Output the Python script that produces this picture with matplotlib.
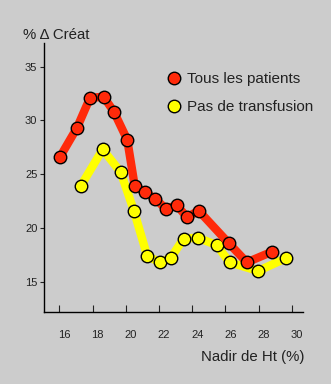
import matplotlib
matplotlib.use("Agg")
import matplotlib.pyplot as plt
import matplotlib.transforms as mtransforms
from matplotlib.lines import Line2D

plt.rcParams['font.family'] = ['Liberation Sans', 'DejaVu Sans']

# Tous les patients
x_all = [16.04, 17.06, 17.85, 18.67, 19.29, 20.09, 20.54, 21.17, 21.78, 22.40,
         23.08, 23.68, 24.39, 26.19, 27.29, 28.82]
y_all = [26.6, 29.3, 32.1, 32.2, 30.8, 28.2, 23.9, 23.3, 22.7, 21.8,
         22.1, 21.0, 21.6, 18.6, 16.8, 17.8]

# Pas de transfusion
x_notr = [17.29, 18.61, 19.69, 20.49, 21.29, 22.04, 22.70, 23.48, 24.33, 25.47,
          26.25, 27.97, 29.66]
y_notr = [23.9, 27.3, 25.2, 21.6, 17.4, 16.8, 17.2, 19.0, 19.1, 18.4,
          16.8, 16.0, 17.2]

xticks = [16, 18, 20, 22, 24, 26, 28, 30]
yticks = [15, 20, 25, 30, 35]

bg = '#cccccc'
red = '#ff2a0a'
yellow = '#ffff00'

fig = plt.figure(figsize=(3.31, 3.84), dpi=100, facecolor=bg)
ax = fig.add_axes([0.134, 0.188, 0.782, 0.70])
ax.set_facecolor(bg)

ax.plot(x_notr, y_notr, color=yellow, lw=6, solid_capstyle='round', zorder=2)
ax.plot(x_notr, y_notr, ls='none', marker='o', ms=9, mfc=yellow, mec='black',
        mew=1.0, zorder=3)
ax.plot(x_all, y_all, color=red, lw=6, solid_capstyle='round', zorder=4)
ax.plot(x_all, y_all, ls='none', marker='o', ms=9, mfc=red, mec='black',
        mew=1.0, zorder=5)

ax.set_xlim(15.1, 30.68)
ax.set_ylim(12.2, 37.2)
ax.set_xticks(xticks)
ax.set_yticks(yticks)
ax.spines['top'].set_visible(False)
ax.spines['right'].set_visible(False)
ax.spines['left'].set_linewidth(1.0)
ax.spines['bottom'].set_linewidth(1.0)
ax.tick_params(axis='x', direction='in', length=5, width=0.8, pad=13,
               labelsize=8, colors='#222222')
ax.tick_params(axis='y', direction='out', length=3, width=0.8, pad=2,
               labelsize=8, colors='#222222')

# x tick labels sit a bit right of their ticks
offset = mtransforms.ScaledTranslation(5 / 100, 0, fig.dpi_scale_trans)
for lab in ax.get_xticklabels():
    lab.set_transform(lab.get_transform() + offset)

fig.text(0.07, 0.908, '% \u0394 Cr\u00e9at', fontsize=10.8, color='#222222',
         ha='left', va='center')
fig.text(0.921, 0.07, 'Nadir de Ht (%)', fontsize=10.8, color='#222222',
         ha='right', va='center')

handles = [
    Line2D([], [], ls='none', marker='o', ms=9, mfc=red, mec='black', mew=1.0),
    Line2D([], [], ls='none', marker='o', ms=9, mfc=yellow, mec='black', mew=1.0),
]
ax.legend(handles, ['Tous les patients', 'Pas de transfusion'],
          loc='upper left', bbox_to_anchor=(0.44, 0.92), frameon=False,
          fontsize=11, handletextpad=0.35, labelspacing=0.9, borderpad=0,
          handlelength=1.0, labelcolor='#222222')

fig.savefig('out.png', dpi=100, facecolor=bg)
